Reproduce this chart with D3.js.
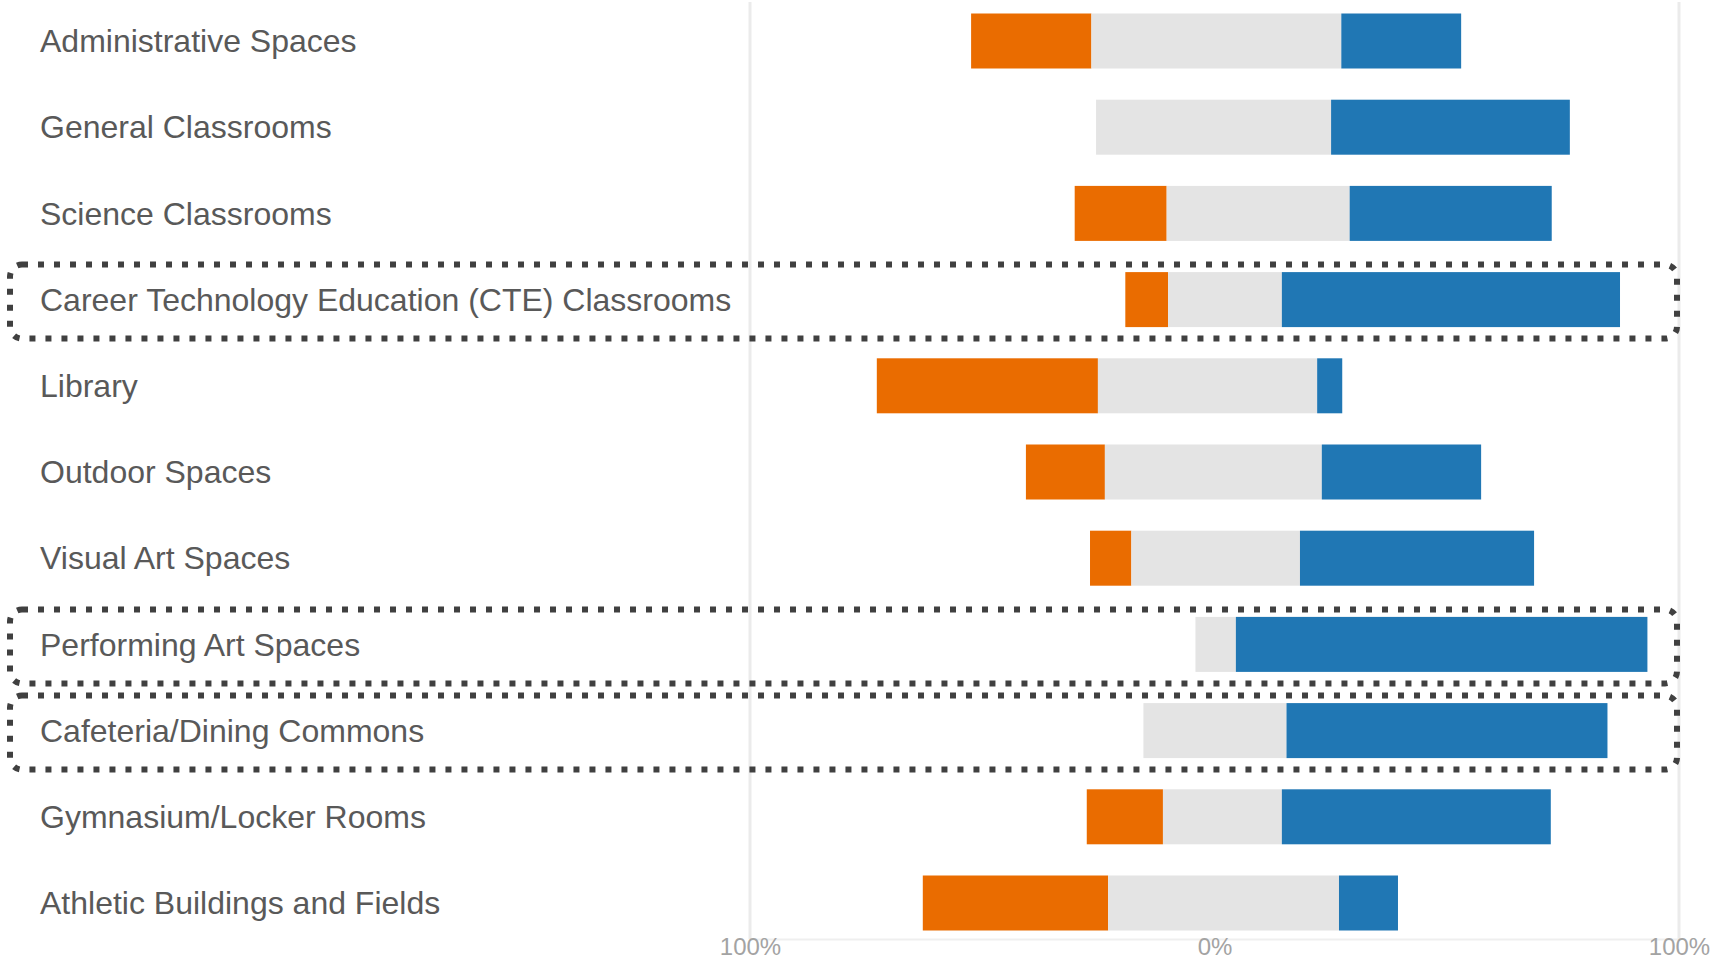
<!DOCTYPE html>
<html>
<head>
<meta charset="utf-8">
<script src="https://cdn.jsdelivr.net/npm/d3@7"></script>
<style>
  html, body { margin: 0; padding: 0; background: #ffffff; }
  svg { display: block; font-family: "Liberation Sans", Arial, sans-serif; }
</style>
</head>
<body>
<svg id="chart" width="1719" height="963"></svg>
<script>
// ---- data (percent of respondents) ----
const categories = [
  "Administrative Spaces",
  "General Classrooms",
  "Science Classrooms",
  "Career Technology Education (CTE) Classrooms",
  "Library",
  "Outdoor Spaces",
  "Visual Art Spaces",
  "Performing Art Spaces",
  "Cafeteria/Dining Commons",
  "Gymnasium/Locker Rooms",
  "Athletic Buildings and Fields"
];
const negativeValues = [25.9, 0, 19.8, 9.2, 47.6, 17.0, 8.9, 0, 0, 16.4, 39.9];
const neutralValues  = [53.8, 50.6, 39.4, 24.5, 47.2, 46.7, 36.3, 8.7, 30.8, 25.6, 49.7];
const positiveValues = [25.8, 51.4, 43.5, 72.8, 5.4, 34.3, 50.4, 88.6, 69.1, 57.9, 12.7];
// left edge of the neutral segment on the diverging axis
const neutralStart   = [-26.5, -25.5, -10.3, -10.0, -25.1, -23.6, -17.9, -4.1, -15.3, -11.1, -22.9];
const highlighted = [
  "Career Technology Education (CTE) Classrooms",
  "Performing Art Spaces",
  "Cafeteria/Dining Commons"
];
const tickValues = [-100, 0, 100];

// ---- layout ----
const svg = d3.select("#chart");
const x = d3.scaleLinear().domain([-100, 100]).range([750, 1679]);
const y = d3.scalePoint().domain(categories).range([41, 903]);
const barH = 55;

const COLORS = { neg: "#EA6C00", neu: "#E4E4E4", pos: "#2077B4" };

// axis lines (light)
const axisBottomY = 939;
svg.append("g").selectAll("line.vline")
  .data([-100, 100]).join("line")
  .attr("x1", d => x(d)).attr("x2", d => x(d))
  .attr("y1", 2).attr("y2", axisBottomY)
  .attr("stroke", "#ebebeb").attr("stroke-width", 3);

const axis = d3.axisBottom(x)
  .tickValues(tickValues)
  .tickSize(0)
  .tickPadding(0)
  .tickFormat(d => Math.abs(d) + "%");
const ga = svg.append("g").attr("transform", `translate(0,${axisBottomY})`).call(axis);
ga.select(".domain").attr("stroke", "#efefef").attr("stroke-width", 2);
ga.selectAll("text")
  .attr("y", 0)
  .attr("dy", "0.68em")
  .attr("fill", "#a3a3a3")
  .style("font-size", "24px")
  .style("font-family", "'Liberation Sans', Arial, sans-serif");

// rows
const rows = categories.map((c, i) => ({
  cat: c,
  neg: negativeValues[i],
  neu: neutralValues[i],
  pos: positiveValues[i],
  start: neutralStart[i]
}));

const segs = [];
rows.forEach(r => {
  if (r.neg > 0) segs.push({ cat: r.cat, x0: r.start - r.neg, x1: r.start, color: COLORS.neg });
  segs.push({ cat: r.cat, x0: r.start, x1: r.start + r.neu, color: COLORS.neu });
  segs.push({ cat: r.cat, x0: r.start + r.neu, x1: r.start + r.neu + r.pos, color: COLORS.pos });
});

svg.append("g").selectAll("rect")
  .data(segs).join("rect")
  .attr("x", d => x(d.x0))
  .attr("width", d => x(d.x1) - x(d.x0))
  .attr("y", d => y(d.cat) - barH / 2)
  .attr("height", barH)
  .attr("fill", d => d.color);

// category labels
svg.append("g").selectAll("text")
  .data(categories).join("text")
  .attr("x", 40)
  .attr("y", d => y(d))
  .attr("dy", "0.35em")
  .attr("fill", "#595959")
  .style("font-size", "32px")
  .text(d => d);

// dotted highlight boxes
const boxTop = 35, boxBottom = 39;
svg.append("g").selectAll("rect")
  .data(highlighted).join("rect")
  .attr("x", 10)
  .attr("width", 1677 - 10)
  .attr("y", d => y(d) - boxTop)
  .attr("height", boxTop + boxBottom)
  .attr("rx", 12).attr("ry", 12)
  .attr("fill", "none")
  .attr("stroke", "#404040")
  .attr("stroke-width", 6)
  .attr("stroke-dasharray", "6 10");
</script>
</body>
</html>
